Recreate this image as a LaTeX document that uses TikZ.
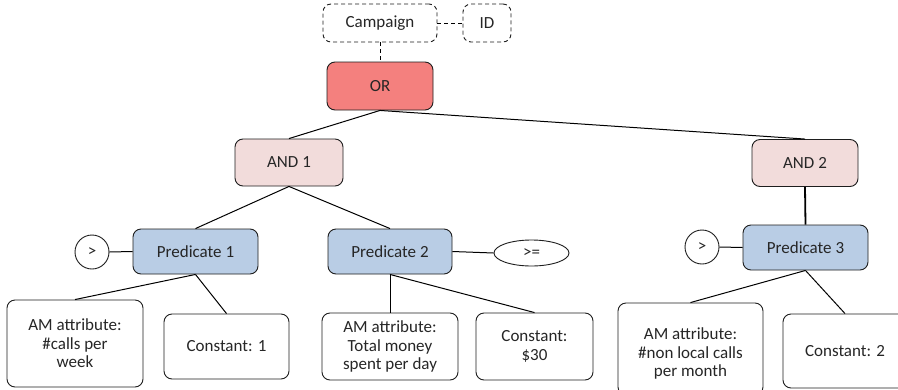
\documentclass[tikz,border=0pt]{standalone}
\usepackage{fontspec}
\setmainfont{Carlito}
\usetikzlibrary{shapes.geometric}
\definecolor{orfill}{RGB}{244,128,126}
\definecolor{andfill}{RGB}{242,220,219}
\definecolor{predfill}{RGB}{185,205,229}
\definecolor{edgegray}{RGB}{30,30,30}
\tikzset{
  base/.style={draw=edgegray, line width=0.9pt, align=center, inner sep=0pt,
    font=\fontsize{17}{18.5}\selectfont, text=black!85},
  rbox/.style={base, rounded corners=8pt},
  dbox/.style={rbox, dashed, dash pattern=on 4pt off 3pt},
  orbox/.style={rbox, fill=orfill},
  andbox/.style={rbox, fill=andfill},
  predbox/.style={rbox, fill=predfill},
  opcircle/.style={base, circle, minimum size=34pt},
  opellipse/.style={base, ellipse, minimum width=75pt, minimum height=26pt},
  link/.style={draw=black, line width=1pt},
  dlink/.style={draw=black, line width=1pt, dash pattern=on 4pt off 3pt},
}
\begin{document}
\begin{tikzpicture}[x=1pt,y=-1pt]
\clip (0,0) rectangle (898,389);
\fill[white] (0,0) rectangle (898,389);

% campaign header
\node[dbox, minimum width=114pt, minimum height=38pt] (camp) at (380,23) {Campaign};
\node[dbox, minimum width=48pt, minimum height=38pt] (id) at (487,23) {ID};

% logical operators
\node[orbox, minimum width=106pt, minimum height=48pt] (or) at (380,86) {OR};
\node[andbox, minimum width=108pt, minimum height=47pt] (and1) at (289,162.5) {AND 1};
\node[andbox, minimum width=106pt, minimum height=47pt] (and2) at (805,163) {AND 2};

% predicates
\node[predbox, minimum width=125pt, minimum height=45pt] (p1) at (195.5,251.5) {Predicate 1};
\node[predbox, minimum width=124pt, minimum height=45pt] (p2) at (390,251.5) {Predicate 2};
\node[predbox, minimum width=125pt, minimum height=45pt] (p3) at (805.5,247.5) {Predicate 3};

% comparison operators
\node[opcircle] (gt1) at (92,252) {>};
\node[opellipse] (ge2) at (531.5,253) {>=};
\node[opcircle] (gt3) at (702,247) {>};

% operands
\node[rbox, minimum width=136pt, minimum height=87pt] (am1) at (75,343.5) {AM attribute:\\\#calls per\\week};
\node[rbox, minimum width=125pt, minimum height=65pt] (c1) at (226.5,346.5) {Constant: 1};
\node[rbox, minimum width=136pt, minimum height=67pt] (am2) at (390,346.5) {AM attribute:\\Total money\\spent per day};
\node[rbox, minimum width=117pt, minimum height=67pt] (c2) at (534.5,346.5) {Constant:\\\$30};
\node[rbox, minimum width=145pt, minimum height=92pt, text depth=0pt] (am3) at (690.5,349) {};
\node[align=center, font=\fontsize{17}{18.5}\selectfont, text=black!85] (am3t) at (690.5,353.5) {AM attribute:\\\#non local calls\\per month};
\node[rbox, minimum width=124pt, minimum height=74pt] (c3) at (845,351) {Constant: 2};

% connectors
\draw[dlink] (camp.east) -- (id.west);
\draw[dlink] (camp.south) -- (or.north);
\draw[link] (or.south) -- (and1.north);
\draw[link] (or.south) -- (and2.north);
\draw[link] (and1.south) -- (p1.north);
\draw[link] (and1.south) -- (p2.north);
\draw[link, line width=1.8pt] (and2.south) -- (p3.north);
\draw[link] (gt1.east) -- (p1.west);
\draw[link] (p2.east) -- (ge2.west);
\draw[link] (gt3.east) -- (p3.west);
\draw[link] (p1.south) -- (am1.north);
\draw[link] (p1.south) -- (c1.north);
\draw[link] (p2.south) -- (am2.north);
\draw[link] (p2.south) -- (c2.north);
\draw[link] (p3.south) -- (am3.north);
\draw[link] (p3.south) -- (c3.north);
\end{tikzpicture}
\end{document}
